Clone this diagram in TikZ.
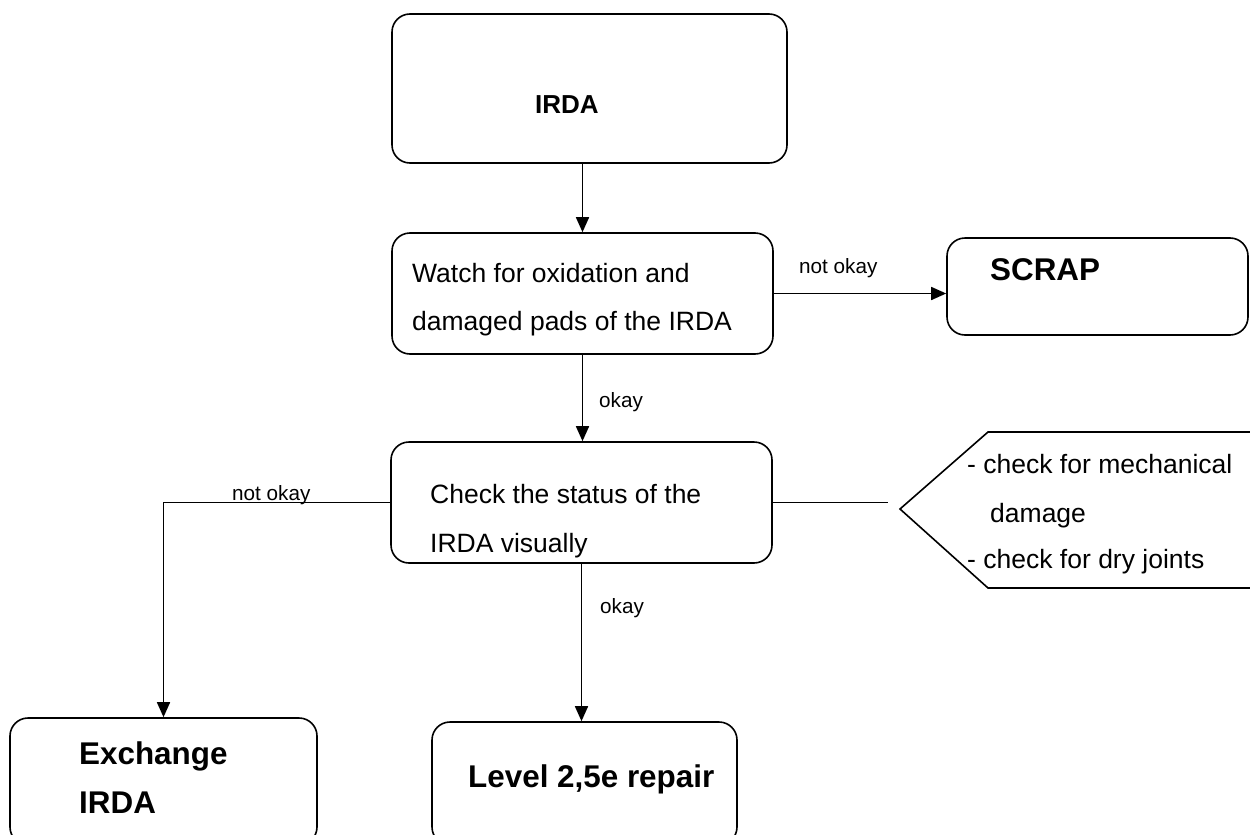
\documentclass[tikz,border=0pt]{standalone}
\usepackage{fontspec}
\setmainfont{Liberation Sans}
\usetikzlibrary{arrows.meta}
\begin{document}
\begin{tikzpicture}[x=1pt,y=-1pt,
  box/.style={draw, line width=1.6pt, rounded corners=18pt, inner sep=0pt},
  arr/.style={line width=1.6pt, -{Triangle[length=15pt,width=13pt]}},
  conn/.style={line width=1.6pt},
  txt/.style={anchor=base west, inner sep=0pt, font=\fontsize{26.5}{30}\selectfont},
  btxt/.style={anchor=base west, inner sep=0pt, font=\fontsize{31.4}{36}\selectfont\bfseries},
  lbl/.style={anchor=base west, inner sep=0pt, font=\fontsize{20.7}{24}\selectfont}]
\useasboundingbox (0,0) rectangle (1250,835);
% boxes
\node[box, minimum width=395pt, minimum height=149pt] (irda) at (589.5,88.5) {};
\node[box, minimum width=381pt, minimum height=121pt] (watch) at (582.5,293.5) {};
\node[box, minimum width=301pt, minimum height=97pt] (scrap) at (1097.5,286.5) {};
\node[box, minimum width=381pt, minimum height=121pt] (check) at (581.5,502.5) {};
\node[box, minimum width=307pt, minimum height=127pt] (exch) at (163.5,781.5) {};
\node[box, minimum width=305pt, minimum height=123pt] (level) at (584.5,783.5) {};
% pentagon note
\draw[line width=1.6pt] (1262,432) -- (988,432) -- (900,509) -- (988,588) -- (1262,588);
\coordinate (noteend) at (888,502.5);
% texts
\node[anchor=base west, inner sep=0pt, font=\fontsize{26}{30}\selectfont\bfseries] (t1) at (535,113) {IRDA};
\node[txt] (t2) at (412,282) {Watch for oxidation and};
\node[txt] (t3) at (412,330) {damaged pads of the IRDA};
\node[btxt] (t4) at (990,280) {SCRAP};
\node[txt] (t5) at (430,503) {Check the status of the};
\node[txt] (t6) at (430,552) {IRDA visually};
\node[txt] (t7) at (967,473) {- check for mechanical};
\node[txt] (t8) at (990,522) {damage};
\node[txt] (t9) at (967,568) {- check for dry joints};
\node[btxt] (t10) at (79,764) {Exchange};
\node[btxt] (t11) at (79,813) {IRDA};
\node[btxt] (t12) at (468,787) {Level 2,5e repair};
% connectors
\draw[arr] (irda.south -| watch.north) -- (watch.north);
\draw[arr] (watch.east) -- (watch.east -| scrap.west);
\draw[arr] (watch.south) -- (watch.south |- check.north);
\draw[arr] (check.west) -| (exch.north);
\draw[arr] (check.south) -- (check.south |- level.north);
\draw[conn] (check.east) -- (noteend);
% labels
\node[lbl] (l1) at (799,273) {not okay};
\node[lbl] (l2) at (599,407) {okay};
\node[lbl] (l3) at (232,500) {not okay};
\node[lbl] (l4) at (600,613) {okay};
\end{tikzpicture}
\end{document}
